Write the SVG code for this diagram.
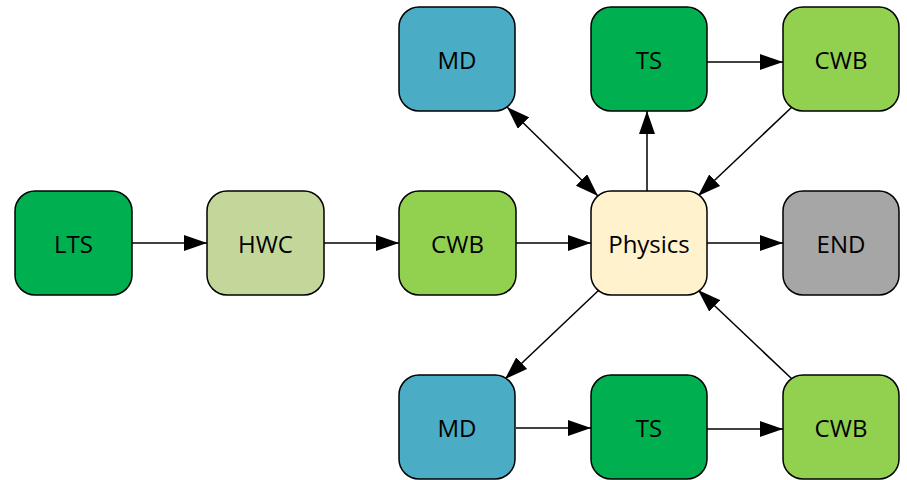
<svg xmlns="http://www.w3.org/2000/svg" width="907" height="480" viewBox="0 0 907 480">
<style>
.n rect{stroke:#000;stroke-width:1.5}
.n text{font-family:"Open Sans","Noto Sans",sans-serif;font-size:24px;fill:#000;text-anchor:middle;dominant-baseline:central}
.c line{stroke:#000;stroke-width:1.5;fill:none}
</style>
<defs>
<marker id="ah" markerUnits="userSpaceOnUse" markerWidth="23" markerHeight="16" refX="23" refY="8" orient="auto-start-reverse" viewBox="0 0 23 16">
<path d="M0,0 L23,8 L0,16 z" fill="#000"/>
</marker>
</defs>
<rect width="907" height="480" fill="#fff"/>
<g class="c" id="connectors">
<line x1="132" y1="243" x2="207" y2="243" marker-end="url(#ah)"/>
<line x1="324" y1="243" x2="399" y2="243" marker-end="url(#ah)"/>
<line x1="516" y1="243" x2="591" y2="243" marker-end="url(#ah)"/>
<line x1="707" y1="243" x2="783" y2="243" marker-end="url(#ah)"/>
<line x1="707" y1="62" x2="783" y2="62" marker-end="url(#ah)"/>
<line x1="516" y1="428" x2="591" y2="428" marker-end="url(#ah)"/>
<line x1="707" y1="429" x2="783" y2="429" marker-end="url(#ah)"/>
<line x1="507" y1="107" x2="598" y2="196" marker-start="url(#ah)" marker-end="url(#ah)"/>
<line x1="647" y1="191" x2="647" y2="111" marker-end="url(#ah)"/>
<line x1="792" y1="107" x2="698" y2="196" marker-end="url(#ah)"/>
<line x1="599" y1="290" x2="505" y2="379" marker-end="url(#ah)"/>
<line x1="792" y1="379" x2="698" y2="290" marker-end="url(#ah)"/>
</g>
<g class="n" id="lts"><rect x="15" y="191" width="117" height="104" rx="20" fill="#00B050"/><text x="73.5" y="243">LTS</text></g>
<g class="n" id="hwc"><rect x="207" y="191" width="117" height="104" rx="20" fill="#C4D79B"/><text x="265.5" y="243">HWC</text></g>
<g class="n" id="cwb_mid"><rect x="399" y="191" width="117" height="104" rx="20" fill="#92D050"/><text x="457.5" y="243">CWB</text></g>
<g class="n" id="physics"><rect x="591" y="191" width="116" height="104" rx="20" fill="#FFF2CC"/><text x="649" y="243">Physics</text></g>
<g class="n" id="end"><rect x="783" y="191" width="116" height="104" rx="20" fill="#A6A6A6"/><text x="841" y="243">END</text></g>
<g class="n" id="md_top"><rect x="399" y="7" width="116" height="104" rx="20" fill="#4BACC6"/><text x="457" y="59">MD</text></g>
<g class="n" id="ts_top"><rect x="591" y="7" width="116" height="104" rx="20" fill="#00B050"/><text x="649" y="59">TS</text></g>
<g class="n" id="cwb_top"><rect x="783" y="7" width="116" height="104" rx="20" fill="#92D050"/><text x="841" y="59">CWB</text></g>
<g class="n" id="md_bot"><rect x="399" y="375" width="116" height="104" rx="20" fill="#4BACC6"/><text x="457" y="427">MD</text></g>
<g class="n" id="ts_bot"><rect x="591" y="375" width="116" height="104" rx="20" fill="#00B050"/><text x="649" y="427">TS</text></g>
<g class="n" id="cwb_bot"><rect x="783" y="375" width="116" height="104" rx="20" fill="#92D050"/><text x="841" y="427">CWB</text></g>
</svg>
